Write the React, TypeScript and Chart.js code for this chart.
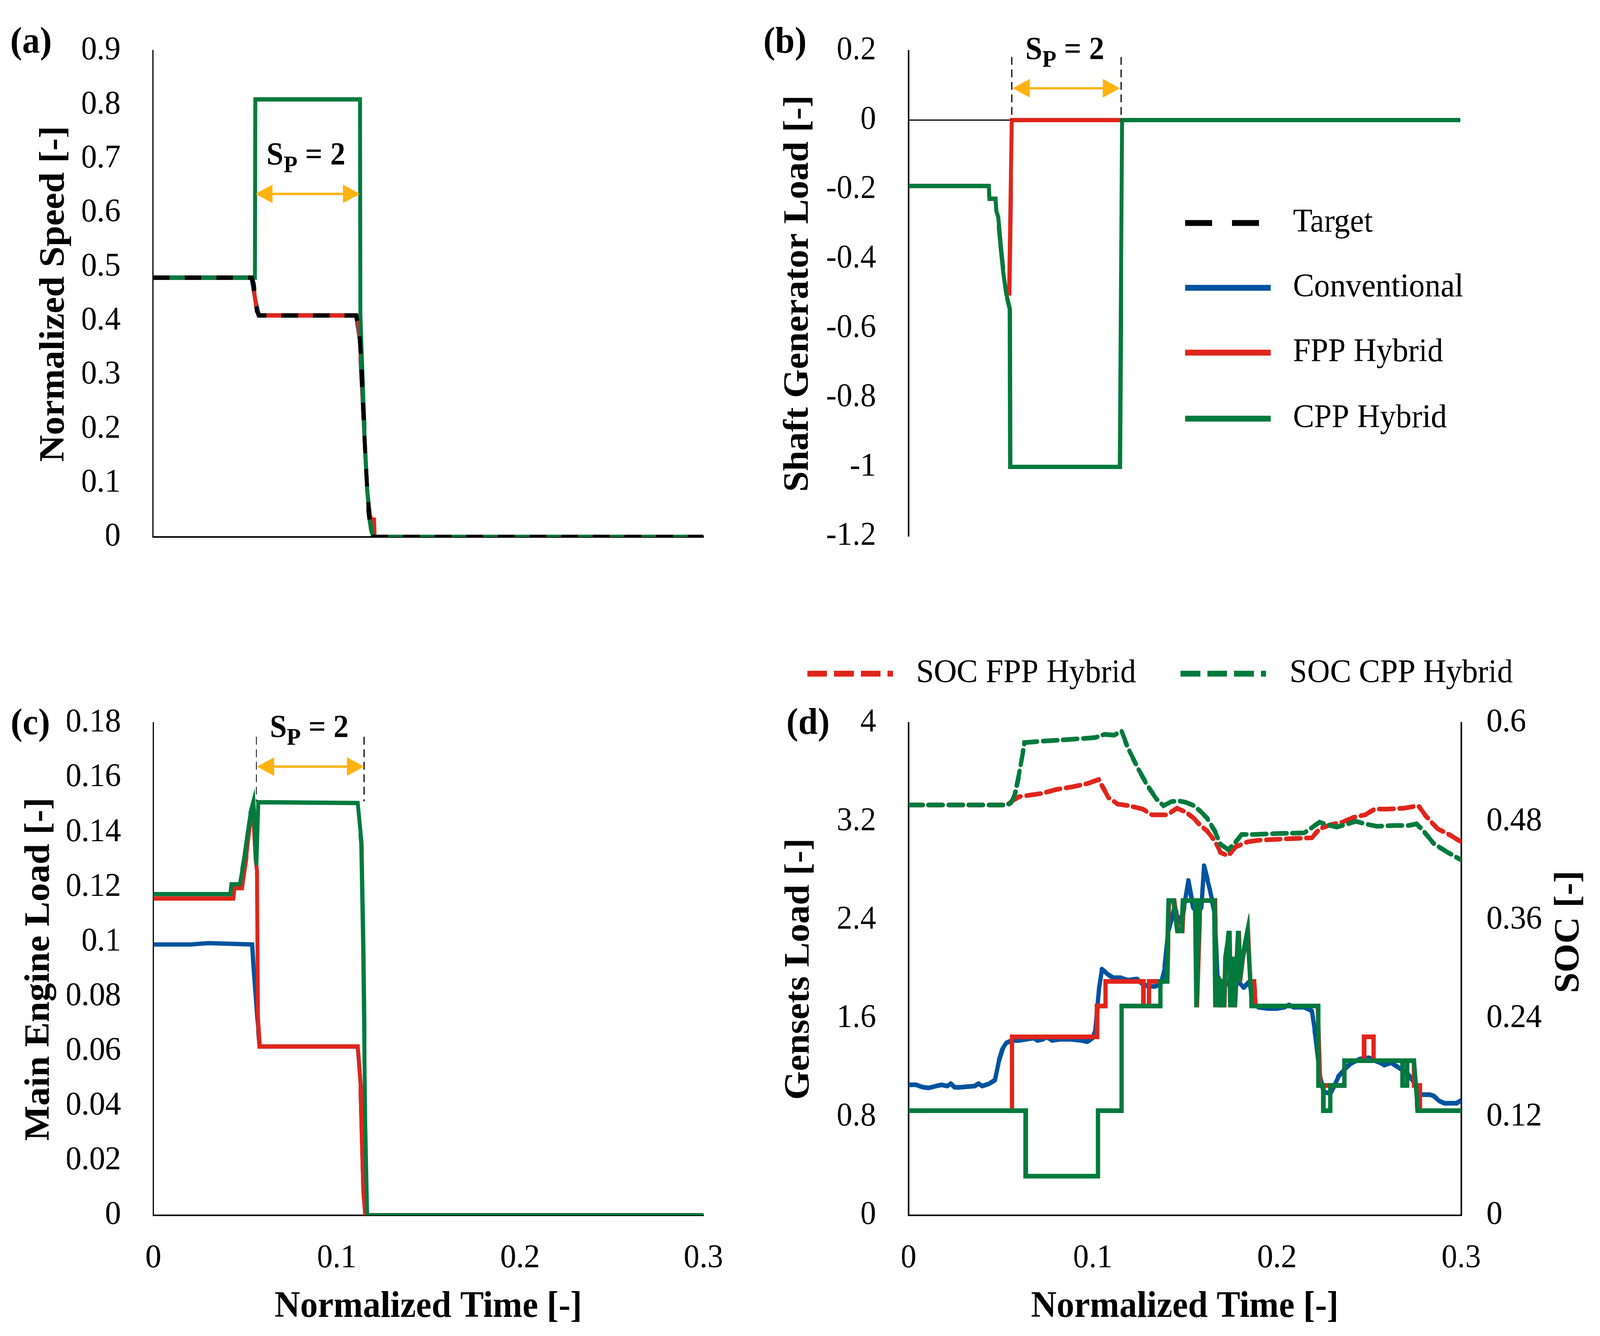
import { useEffect, useRef } from "react";
import { Chart, registerables } from "chart.js";

Chart.register(...registerables);

const FONT = '"Liberation Serif", "Times New Roman", serif';
const GREEN = "#007a3d";
const RED = "#e0251b";
const BLUE = "#00539f";
const ORANGE = "#ffb310";
const BLACK = "#000000";

// the figure is laid out on the reference's own 4299 x 3421 grid
const PAGE_W = 4299;
const PAGE_H = 3421;

type Pt = [number, number];

// tick values
const timeTicks = [0, 0.1, 0.2, 0.3];
const speedTicks = [0, 0.1, 0.2, 0.3, 0.4, 0.5, 0.6, 0.7, 0.8, 0.9];
const shaftTicks = [-1.2, -1, -0.8, -0.6, -0.4, -0.2, 0, 0.2];
const engineTicks = [0, 0.02, 0.04, 0.06, 0.08, 0.1, 0.12, 0.14, 0.16, 0.18];
const gensetTicks = [0, 0.8, 1.6, 2.4, 3.2, 4];
const socTicks = [0, 0.12, 0.24, 0.36, 0.48, 0.6];

// (a) normalized speed
const speedTarget: Pt[] = [
  [0, 0.48], [0.0538, 0.48], [0.0548, 0.468], [0.0557, 0.44], [0.0566, 0.418], [0.0578, 0.41],
  [0.1107, 0.41], [0.1117, 0.398], [0.1127, 0.365], [0.1137, 0.31], [0.1147, 0.23], [0.1158, 0.15],
  [0.1168, 0.085], [0.1178, 0.04], [0.119, 0.012], [0.1202, 0], [0.3, 0],
];
const speedConv: Pt[] = [
  [0, 0.48], [0.0538, 0.48], [0.0557, 0.44], [0.0578, 0.41], [0.1107, 0.41], [0.1127, 0.365],
  [0.1147, 0.23], [0.1168, 0.085], [0.119, 0.012], [0.1202, 0], [0.3, 0],
];
const speedFpp: Pt[] = [
  [0, 0.48], [0.0538, 0.48], [0.0548, 0.468], [0.0557, 0.44], [0.0566, 0.418], [0.0578, 0.41],
  [0.1107, 0.41], [0.1117, 0.398], [0.1127, 0.365], [0.1137, 0.31], [0.1147, 0.23], [0.1158, 0.15],
  [0.1168, 0.085], [0.1178, 0.045], [0.119, 0.032], [0.1205, 0.032], [0.1208, 0], [0.3, 0],
];
const speedCpp: Pt[] = [
  [0, 0.48], [0.0556, 0.48], [0.0558, 0.81], [0.1128, 0.81], [0.113, 0.41], [0.1137, 0.34],
  [0.1147, 0.24], [0.1158, 0.15], [0.1168, 0.085], [0.1178, 0.04], [0.119, 0.012], [0.1202, 0], [0.3, 0],
];

// (b) shaft generator load
const shaftFpp: Pt[] = [
  [0, -0.19], [0.0437, -0.19], [0.044, -0.227], [0.0474, -0.227], [0.0478, -0.262], [0.0488, -0.28],
  [0.0502, -0.366], [0.0516, -0.44], [0.0531, -0.5], [0.0548, -0.5], [0.0562, 0], [0.3, 0],
];
const shaftCpp: Pt[] = [
  [0, -0.19], [0.0437, -0.19], [0.044, -0.227], [0.0474, -0.227], [0.0478, -0.262], [0.0488, -0.28],
  [0.0502, -0.366], [0.0516, -0.44], [0.0531, -0.5], [0.0542, -0.525], [0.0551, -0.545], [0.0553, -1],
  [0.115, -1], [0.1162, 0], [0.3, 0],
];

// (c) main engine load
const engineConv: Pt[] = [
  [0, 0.099], [0.02, 0.099], [0.03, 0.0995], [0.0539, 0.099], [0.0545, 0.092], [0.0565, 0.073],
  [0.058, 0.0617], [0.1115, 0.0617], [0.1131, 0.047], [0.1146, 0.009], [0.1156, 0], [0.3, 0],
];
const engineFpp: Pt[] = [
  [0, 0.1158], [0.0436, 0.1158], [0.0442, 0.1196], [0.0483, 0.1196], [0.0505, 0.13], [0.0525, 0.142],
  [0.0545, 0.148], [0.0558, 0.13], [0.0565, 0.126], [0.057, 0.0725], [0.058, 0.0617], [0.1115, 0.0617],
  [0.1131, 0.047], [0.1146, 0.009], [0.1156, 0], [0.3, 0],
];
const engineCpp: Pt[] = [
  [0, 0.1174], [0.042, 0.1174], [0.0426, 0.121], [0.0472, 0.121], [0.0495, 0.13], [0.0515, 0.14],
  [0.053, 0.147], [0.0545, 0.151], [0.0562, 0.128], [0.0572, 0.151], [0.1115, 0.1507], [0.1135, 0.136],
  [0.1145, 0.098], [0.1156, 0.034], [0.1166, 0], [0.3, 0],
];

// (d) gensets load
const gensetConv: Pt[] = [
  [0, 1.06], [0.004, 1.06], [0.008, 1.04], [0.011, 1.035], [0.015, 1.05], [0.018, 1.06], [0.021, 1.05],
  [0.023, 1.07], [0.025, 1.04], [0.028, 1.04], [0.032, 1.045], [0.036, 1.05], [0.038, 1.07], [0.04, 1.05],
  [0.044, 1.07], [0.047, 1.1], [0.049, 1.25], [0.051, 1.35], [0.053, 1.4], [0.056, 1.42], [0.06, 1.42],
  [0.064, 1.43], [0.068, 1.44], [0.07, 1.42], [0.073, 1.43], [0.075, 1.45], [0.078, 1.42], [0.082, 1.43],
  [0.088, 1.43], [0.094, 1.42], [0.097, 1.41], [0.1, 1.44], [0.1015, 1.5], [0.1035, 1.85], [0.105, 2.0],
  [0.108, 1.96], [0.111, 1.93], [0.115, 1.93], [0.119, 1.91], [0.124, 1.92], [0.127, 1.88], [0.13, 1.86],
  [0.134, 1.86], [0.137, 1.88], [0.139, 2.0], [0.141, 2.3], [0.1445, 2.5], [0.147, 2.38], [0.149, 2.45],
  [0.1519, 2.72], [0.1545, 2.5], [0.157, 2.45], [0.159, 2.5], [0.1604, 2.84], [0.1635, 2.65],
  [0.1663, 2.45], [0.1677, 1.95], [0.17, 1.85], [0.173, 1.9], [0.176, 1.82], [0.179, 1.9], [0.182, 1.85],
  [0.185, 1.9], [0.187, 1.72], [0.19, 1.69], [0.195, 1.68], [0.2, 1.68], [0.204, 1.69], [0.2066, 1.71],
  [0.209, 1.69], [0.215, 1.69], [0.219, 1.66], [0.221, 1.45], [0.2235, 1.12], [0.2255, 1.0], [0.229, 0.99],
  [0.232, 1.08], [0.2335, 1.13], [0.237, 1.19], [0.2397, 1.23], [0.245, 1.27], [0.25, 1.28], [0.2525, 1.26],
  [0.256, 1.24], [0.2583, 1.22], [0.262, 1.24], [0.265, 1.21], [0.2682, 1.18], [0.271, 1.15], [0.2744, 1.08],
  [0.2764, 1.0], [0.2789, 0.98], [0.2831, 0.98], [0.2851, 0.97], [0.288, 0.93], [0.291, 0.91], [0.2975, 0.91],
  [0.3, 0.935],
];
const gensetFpp: Pt[] = [
  [0, 0.85], [0.0562, 0.85], [0.0562, 1.45], [0.1023, 1.45], [0.1023, 1.7], [0.107, 1.7], [0.107, 1.9],
  [0.1275, 1.9], [0.1275, 1.7], [0.1305, 1.7], [0.1305, 1.9], [0.1372, 1.9], [0.1404, 1.9], [0.141, 2.32],
  [0.1415, 2.557], [0.1442, 2.557], [0.1462, 2.31], [0.1486, 2.31], [0.1493, 2.557], [0.1558, 2.557],
  [0.1565, 1.69], [0.1583, 2.557], [0.1663, 2.557], [0.1668, 1.69], [0.1675, 1.92], [0.1685, 1.92],
  [0.1695, 1.69], [0.1705, 1.92], [0.1715, 1.69], [0.1722, 2.1], [0.1742, 2.31], [0.1749, 1.69],
  [0.1762, 2.1], [0.1772, 1.69], [0.1792, 2.31], [0.18, 1.9], [0.1816, 2.1], [0.1843, 2.31], [0.1855, 1.9],
  [0.1875, 1.9], [0.1885, 1.7], [0.2222, 1.7], [0.2235, 1.055], [0.2366, 1.055], [0.2366, 1.256],
  [0.2473, 1.256], [0.2473, 1.45], [0.2525, 1.45], [0.2525, 1.256], [0.2744, 1.256], [0.2744, 1.055],
  [0.2775, 1.055], [0.2775, 0.85], [0.3, 0.85],
];
const gensetCpp: Pt[] = [
  [0, 0.85], [0.0636, 0.85], [0.0636, 0.318], [0.1029, 0.318], [0.1029, 0.85], [0.1157, 0.85],
  [0.1157, 1.7], [0.1368, 1.7], [0.1368, 1.9], [0.1402, 1.9], [0.1408, 2.32], [0.1412, 2.557],
  [0.1439, 2.557], [0.1459, 2.31], [0.1483, 2.31], [0.149, 2.557], [0.1555, 2.557], [0.1562, 1.69],
  [0.158, 2.557], [0.166, 2.557], [0.1666, 1.69], [0.1673, 1.92], [0.1683, 1.92], [0.1693, 1.69],
  [0.1703, 1.92], [0.1713, 1.69], [0.172, 2.1], [0.174, 2.31], [0.1747, 1.69], [0.176, 2.1],
  [0.177, 1.69], [0.179, 2.31], [0.1798, 1.9], [0.1814, 2.1], [0.184, 2.31], [0.1863, 1.7],
  [0.2225, 1.7], [0.2225, 1.055], [0.2252, 1.055], [0.2252, 0.85], [0.2289, 0.85], [0.2289, 1.055],
  [0.2366, 1.055], [0.2366, 1.256], [0.2682, 1.256], [0.2682, 1.055], [0.2707, 1.055], [0.2707, 1.256],
  [0.2744, 1.256], [0.2764, 0.85], [0.3, 0.85],
];

// (d) battery state of charge
const socFpp: Pt[] = [
  [0, 0.5], [0.0537, 0.5], [0.0558, 0.504], [0.0599, 0.51], [0.0723, 0.514], [0.0806, 0.519],
  [0.0888, 0.522], [0.0971, 0.526], [0.1033, 0.531], [0.1054, 0.522], [0.1085, 0.509], [0.1136, 0.501],
  [0.1198, 0.499], [0.1271, 0.495], [0.1322, 0.488], [0.1405, 0.488], [0.1457, 0.496], [0.1508, 0.491],
  [0.155, 0.4835], [0.158, 0.476], [0.1622, 0.468], [0.1663, 0.456], [0.1694, 0.442], [0.1735, 0.438],
  [0.1777, 0.449], [0.1839, 0.455], [0.1901, 0.457], [0.1983, 0.458], [0.219, 0.46], [0.2231, 0.471],
  [0.2293, 0.476], [0.2355, 0.479], [0.2417, 0.485], [0.2479, 0.488], [0.2531, 0.495], [0.2603, 0.495],
  [0.2686, 0.496], [0.2768, 0.499], [0.281, 0.486], [0.2872, 0.471], [0.2934, 0.464], [0.3, 0.455],
];
const socCpp: Pt[] = [
  [0, 0.5], [0.0537, 0.5], [0.0558, 0.503], [0.0579, 0.514], [0.0599, 0.536], [0.063, 0.576],
  [0.0744, 0.578], [0.0888, 0.58], [0.1012, 0.582], [0.1064, 0.586], [0.1116, 0.585], [0.1157, 0.59],
  [0.1188, 0.571], [0.124, 0.547], [0.1291, 0.526], [0.1343, 0.508], [0.1384, 0.499], [0.1426, 0.504],
  [0.1467, 0.505], [0.1508, 0.503], [0.155, 0.499], [0.1591, 0.491], [0.1622, 0.4835], [0.1663, 0.468],
  [0.1694, 0.452], [0.1735, 0.4455], [0.1777, 0.455], [0.1808, 0.464], [0.188, 0.464], [0.1983, 0.465],
  [0.2149, 0.466], [0.22, 0.474], [0.2231, 0.479], [0.2273, 0.476], [0.2324, 0.473], [0.2386, 0.477],
  [0.2428, 0.48], [0.2479, 0.477], [0.2541, 0.474], [0.2644, 0.475], [0.2717, 0.475], [0.2758, 0.477],
  [0.28, 0.467], [0.2851, 0.453], [0.2913, 0.444], [0.3, 0.433],
];

// S_P = 2 pulse window: [start, end] times per panel
const pulseSpeed = [0.0559, 0.1128];
const pulseShaft = [0.0561, 0.1156];
const pulseEngine = [0.0562, 0.1149];

const fmt = (v: number) => String(Math.round(v * 100) / 100);
const tickFont = { family: FONT, size: 85 };
const titleFont = { family: FONT, size: 95, weight: "bold" as const };

const series = (label: string, data: Pt[], color: string, order: number, extra: object = {}) => ({
  label,
  data,
  order,
  borderColor: color,
  backgroundColor: color,
  borderWidth: 11,
  pointRadius: 0,
  pointHoverRadius: 0,
  tension: 0,
  fill: false,
  borderJoinStyle: "miter",
  ...extra,
});

const yAxis = (ticks: number[], title: string, width: number, titlePad: number, position = "left", tickPad = 79) => ({
  type: "linear",
  position,
  min: ticks[0],
  max: ticks[ticks.length - 1],
  afterBuildTicks: (s: any) => {
    s.ticks = ticks.map((value) => ({ value }));
  },
  afterFit: (s: any) => {
    s.width = width;
  },
  grid: { display: false },
  border: { display: true, color: BLACK, width: 4 },
  ticks: { color: BLACK, font: tickFont, padding: tickPad, callback: (v: any) => fmt(Number(v)) },
  title: {
    display: title !== "",
    text: title,
    color: BLACK,
    font: titleFont,
    padding: { top: titlePad, bottom: 0 },
  },
});

const xAxis = (showTicks: boolean, height: number, extra: object = {}) => ({
  type: "linear",
  min: 0,
  max: 0.3,
  afterBuildTicks: (s: any) => {
    s.ticks = timeTicks.map((value) => ({ value }));
  },
  afterFit: (s: any) => {
    s.height = height;
  },
  grid: { display: false },
  border: { display: true, color: BLACK, width: 4 },
  ticks: {
    display: showTicks,
    autoSkip: false,
    maxRotation: 0,
    color: BLACK,
    font: tickFont,
    padding: 52,
    callback: (v: any) => fmt(Number(v)),
  },
  title: {
    display: showTicks,
    text: "Normalized Time [-]",
    color: BLACK,
    font: titleFont,
    padding: { top: 0, bottom: 17 },
  },
  ...extra,
});

type Marks = {
  panel: [string, number, number];
  sp: Pt;
  arrow: [number, number, number];
  guides?: [number, number, number, number];
};

// panel letter, S_P label, orange period arrow and dashed period guides
const marks = (m: Marks) => ({
  id: "marks",
  afterDraw(chart: any) {
    const { ctx } = chart;
    const x = chart.scales.x;
    const y = chart.scales.y;
    ctx.save();
    ctx.fillStyle = BLACK;
    ctx.textAlign = "left";
    ctx.textBaseline = "alphabetic";
    ctx.font = `bold 95px ${FONT}`;
    ctx.fillText(m.panel[0], m.panel[1], m.panel[2]);

    if (m.guides) {
      ctx.strokeStyle = BLACK;
      ctx.lineWidth = 3;
      ctx.setLineDash([20, 12]);
      for (const t of [m.guides[0], m.guides[1]]) {
        const px = x.getPixelForValue(t);
        ctx.beginPath();
        ctx.moveTo(px, y.getPixelForValue(m.guides[2]));
        ctx.lineTo(px, y.getPixelForValue(m.guides[3]));
        ctx.stroke();
      }
      ctx.setLineDash([]);
    }

    const ax0 = x.getPixelForValue(m.arrow[0]);
    const ax1 = x.getPixelForValue(m.arrow[1]);
    const ay = y.getPixelForValue(m.arrow[2]);
    const head = 46;
    const half = 24;
    ctx.strokeStyle = ORANGE;
    ctx.fillStyle = ORANGE;
    ctx.lineWidth = 6;
    ctx.beginPath();
    ctx.moveTo(ax0 + head - 4, ay);
    ctx.lineTo(ax1 - head + 4, ay);
    ctx.stroke();
    ctx.beginPath();
    ctx.moveTo(ax0, ay);
    ctx.lineTo(ax0 + head, ay - half);
    ctx.lineTo(ax0 + head, ay + half);
    ctx.closePath();
    ctx.fill();
    ctx.beginPath();
    ctx.moveTo(ax1, ay);
    ctx.lineTo(ax1 - head, ay - half);
    ctx.lineTo(ax1 - head, ay + half);
    ctx.closePath();
    ctx.fill();

    const big = `bold 82px ${FONT}`;
    const small = `bold 62px ${FONT}`;
    ctx.font = big;
    const wS = ctx.measureText("S").width;
    const wRest = ctx.measureText(" = 2").width;
    ctx.font = small;
    const wP = ctx.measureText("P").width;
    let cx = x.getPixelForValue(m.sp[0]) - (wS + wP + wRest) / 2;
    const by = y.getPixelForValue(m.sp[1]);
    ctx.fillStyle = BLACK;
    ctx.font = big;
    ctx.fillText("S", cx, by);
    cx += wS;
    ctx.font = small;
    ctx.fillText("P", cx, by + 20);
    cx += wP;
    ctx.font = big;
    ctx.fillText(" = 2", cx, by);
    ctx.restore();
  },
});

type KeyItem = { label: string; x: number; y: number; dash?: number[] };

// line-sample legend placed where the figure has it
const key = (items: KeyItem[], lineLength: number, textGap: number) => ({
  id: "key",
  afterDraw(chart: any) {
    const { ctx } = chart;
    ctx.save();
    ctx.font = `85px ${FONT}`;
    ctx.textAlign = "left";
    ctx.textBaseline = "middle";
    for (const it of items) {
      const ds = chart.data.datasets.find((d: any) => d.label === it.label);
      ctx.strokeStyle = ds ? ds.borderColor : BLACK;
      ctx.lineWidth = 15;
      ctx.lineCap = "butt";
      ctx.setLineDash(it.dash || []);
      ctx.beginPath();
      ctx.moveTo(it.x, it.y);
      ctx.lineTo(it.x + lineLength, it.y);
      ctx.stroke();
      ctx.setLineDash([]);
      ctx.fillStyle = BLACK;
      ctx.fillText(it.label, it.x + textGap, it.y);
    }
    ctx.restore();
  },
});

// panel (d): letter and the right-hand SOC title, which sits above the axis middle
const dText = {
  id: "dtext",
  afterDraw(chart: any) {
    const { ctx } = chart;
    ctx.save();
    ctx.fillStyle = BLACK;
    ctx.textAlign = "left";
    ctx.textBaseline = "alphabetic";
    ctx.font = `bold 95px ${FONT}`;
    ctx.fillText("(d)", 73, 319);
    ctx.translate(2176, 826);
    ctx.rotate(-Math.PI / 2);
    ctx.textAlign = "center";
    ctx.textBaseline = "middle";
    ctx.fillText("SOC [-]", 0, 0);
    ctx.restore();
  },
};

const base = (datasets: any[], scales: any, padding: any, plugins: any[]) => ({
  type: "line",
  data: { datasets },
  options: {
    responsive: false,
    animation: false,
    devicePixelRatio: 1,
    events: [],
    layout: { padding },
    plugins: { legend: { display: false }, tooltip: { enabled: false } },
    scales,
  },
  plugins,
});

const targetDash = { borderDash: [45, 40], borderCapStyle: "butt" };
const socDash = { borderDash: [38, 16], borderWidth: 12, borderCapStyle: "round", yAxisID: "y1" };

const configA = () =>
  base(
    [
      series("Target", speedTarget, BLACK, 0, targetDash),
      series("Conventional", speedConv, BLUE, 3),
      series("FPP Hybrid", speedFpp, RED, 2),
      series("CPP Hybrid", speedCpp, GREEN, 1),
    ],
    { x: xAxis(false, 185), y: yAxis(speedTicks, "Normalized Speed [-]", 411, 89) },
    { left: 0, top: 113, right: 150, bottom: 0 },
    [marks({ panel: ["(a)", 28, 135], sp: [0.0834, 0.69], arrow: [pulseSpeed[0], pulseSpeed[1], 0.635] })],
  );

const configB = () =>
  base(
    [
      series("Target", [], BLACK, 0, targetDash),
      series("Conventional", [], BLUE, 3),
      series("FPP Hybrid", shaftFpp, RED, 2),
      series("CPP Hybrid", shaftCpp, GREEN, 1),
    ],
    {
      x: xAxis(false, 0, { position: { y: 0 }, border: { display: true, color: BLACK, width: 3 } }),
      y: yAxis(shaftTicks, "Shaft Generator Load [-]", 401, 48),
    },
    { left: 0, top: 113, right: 376, bottom: 187 },
    [
      marks({
        panel: ["(b)", 11, 135],
        sp: [0.085, 0.1767],
        arrow: [pulseShaft[0] + 0.0006, pulseShaft[1] - 0.0006, 0.092],
        guides: [pulseShaft[0], pulseShaft[1], 0.182, 0],
      }),
      key(
        [
          { label: "Target", x: 1144, y: 571, dash: [73, 53, 73, 400] },
          { label: "Conventional", x: 1144, y: 737 },
          { label: "FPP Hybrid", x: 1144, y: 903 },
          { label: "CPP Hybrid", x: 1144, y: 1072 },
        ],
        230,
        290,
      ),
    ],
  );

const configC = () =>
  base(
    [
      series("Conventional", engineConv, BLUE, 3),
      series("FPP Hybrid", engineFpp, RED, 2),
      series("CPP Hybrid", engineCpp, GREEN, 1),
    ],
    { x: xAxis(true, 309), y: yAxis(engineTicks, "Main Engine Load [-]", 412, 49) },
    { left: 0, top: 291, right: 150, bottom: 0 },
    [
      marks({
        panel: ["(c)", 29, 320],
        sp: [0.085, 0.1749],
        arrow: [pulseEngine[0] + 0.0004, pulseEngine[1], 0.164],
        guides: [pulseEngine[0], pulseEngine[1], 0.1749, 0.1513],
      }),
    ],
  );

const configD = () =>
  base(
    [
      series("SOC CPP Hybrid", socCpp, GREEN, 0, socDash),
      series("SOC FPP Hybrid", socFpp, RED, 1, socDash),
      series("CPP Hybrid", gensetCpp, GREEN, 2, { borderWidth: 12 }),
      series("FPP Hybrid", gensetFpp, RED, 3, { borderWidth: 12 }),
      series("Conventional", gensetConv, BLUE, 4, { borderWidth: 12, borderJoinStyle: "round" }),
    ],
    {
      x: xAxis(true, 309),
      y: yAxis(gensetTicks, "Gensets Load [-]", 401, 51),
      y1: yAxis(socTicks, "", 373, 7, "right", 60),
    },
    { left: 0, top: 291, right: 0, bottom: 0 },
    [
      dText,
      key(
        [
          { label: "SOC FPP Hybrid", x: 129, y: 165, dash: [53, 19] },
          { label: "SOC CPP Hybrid", x: 1132, y: 165, dash: [53, 19] },
        ],
        230,
        293,
      ),
    ],
  );

function Panel({ left, top, width, height, make }: { left: number; top: number; width: number; height: number; make: () => any }) {
  const ref = useRef<HTMLCanvasElement | null>(null);
  useEffect(() => {
    if (!ref.current) return;
    const chart = new Chart(ref.current, make());
    return () => chart.destroy();
  }, [make]);
  return (
    <canvas
      ref={ref}
      width={width}
      height={height}
      style={{ position: "absolute", left, top, width, height, display: "block" }}
    />
  );
}

export default function App() {
  // the window may be narrower than the reference grid; fit the grid to it
  const sx = window.innerWidth / PAGE_W;
  const sy = window.innerHeight / PAGE_H;
  return (
    <div style={{ position: "fixed", left: 0, top: 0, width: "100vw", height: "100vh", overflow: "hidden", background: "#fff" }}>
      <div
        style={{
          position: "absolute",
          left: 0,
          top: 0,
          width: PAGE_W,
          height: PAGE_H,
          transform: `scale(${sx}, ${sy})`,
          transformOrigin: "0 0",
        }}
      >
        <Panel left={0} top={0} width={2040} height={1560} make={configA} />
        <Panel left={2040} top={0} width={2259} height={1560} make={configB} />
        <Panel left={0} top={1560} width={2040} height={1861} make={configC} />
        <Panel left={2040} top={1560} width={2259} height={1861} make={configD} />
      </div>
    </div>
  );
}
